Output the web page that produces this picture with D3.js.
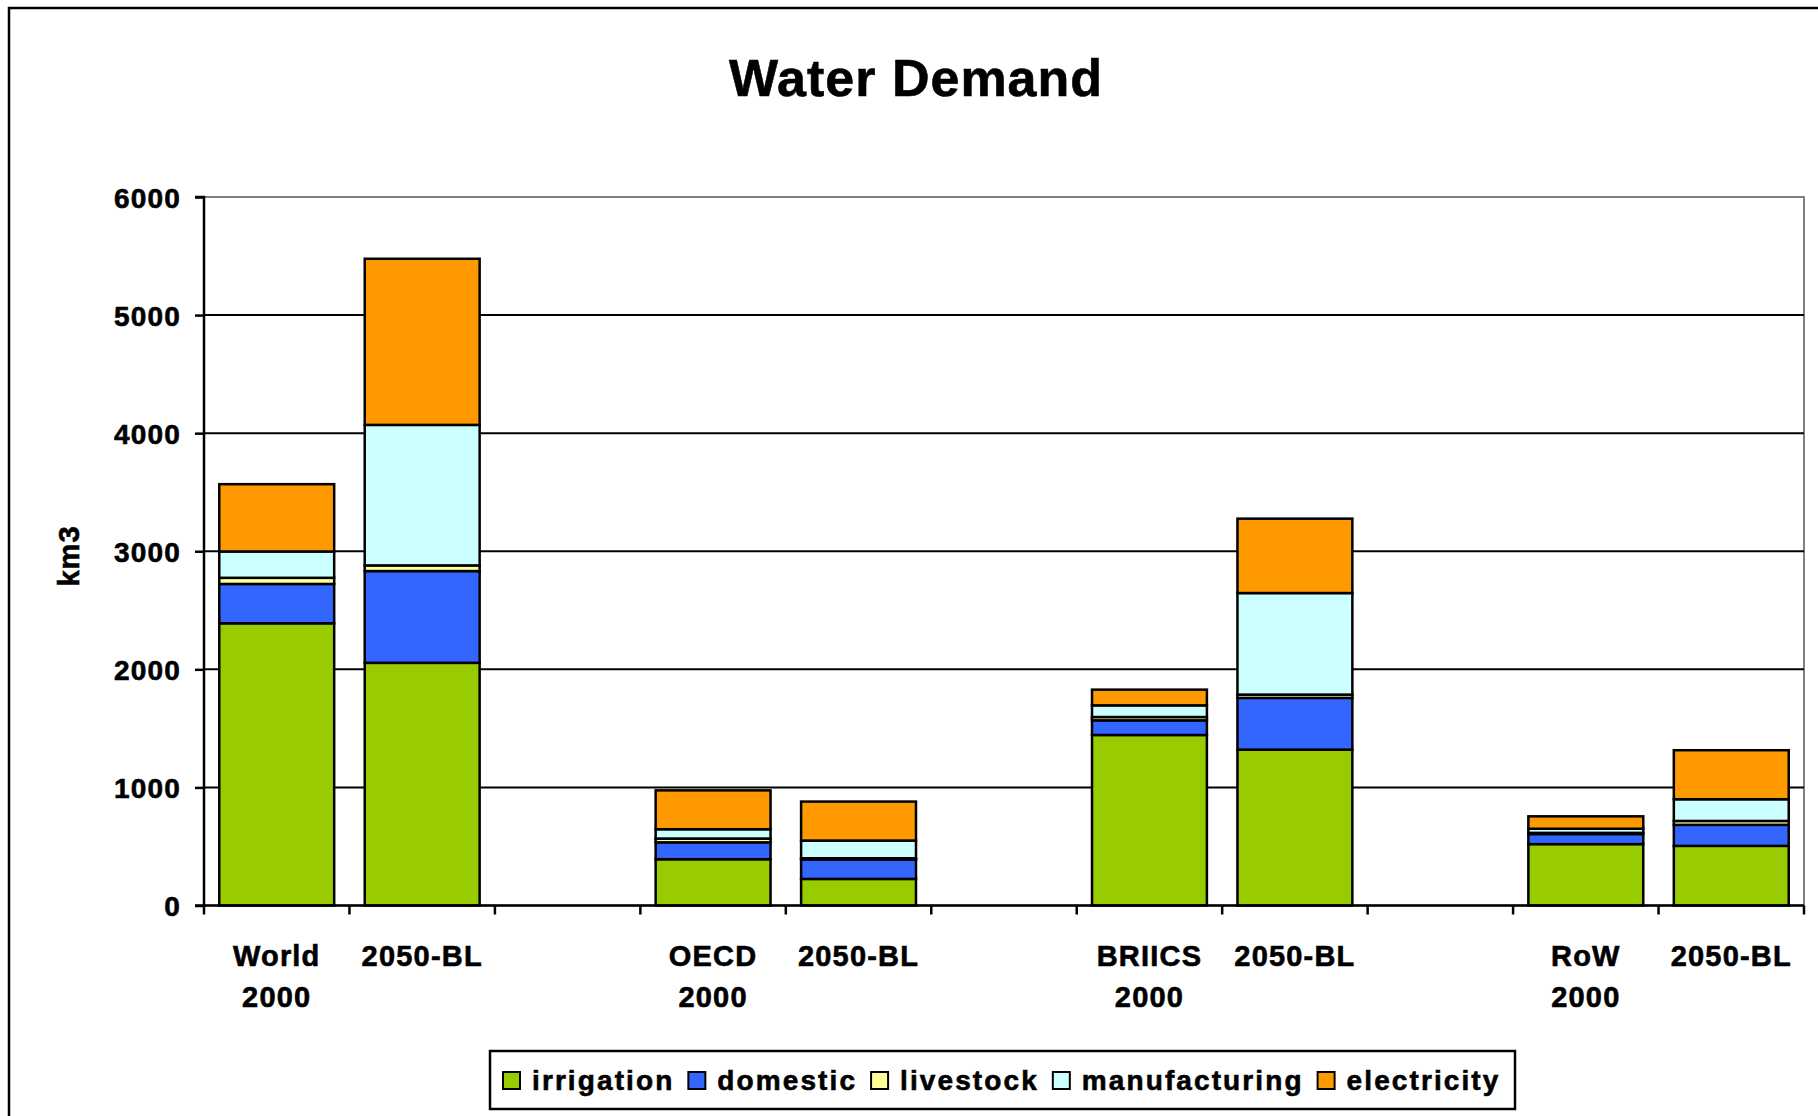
<!DOCTYPE html>
<html>
<head>
<meta charset="utf-8">
<script src="https://cdn.jsdelivr.net/npm/d3@7/dist/d3.min.js"></script>
<style>
  body { margin: 0; background: #fff; }
  text { font-family: "Liberation Sans", Arial, sans-serif; font-weight: bold; fill: #000; stroke: #000; stroke-width: 0.6px; }
</style>
</head>
<body>
<div class="D3"></div>
<script>
// categories (blank slots keep the gaps between regions)
var categories = ["World|2000", "2050-BL", "gap1", "OECD|2000", "2050-BL ", "gap2",
                  "BRIICS|2000", "2050-BL  ", "gap3", "RoW|2000", "2050-BL   "];
var seriesNames = ["irrigation", "domestic", "livestock", "manufacturing", "electricity"];
var seriesColors = ["#99CC00", "#3366FF", "#FFFF99", "#CCFFFF", "#FF9900"];

// values per category, km3 (null = empty slot)
var irrigation    = [2390, 2055, null, 392, 225, null, 1444, 1320, null, 520, 505];
var domestic      = [333, 777, null, 143, 165, null, 124, 438, null, 85, 178];
var livestock     = [52, 48, null, 32, 10, null, 28, 28, null, 10, 33];
var manufacturing = [223, 1190, null, 79, 150, null, 99, 860, null, 35, 184];
var electricity   = [570, 1407, null, 329, 330, null, 133, 630, null, 105, 415];

var yTicks = [0, 1000, 2000, 3000, 4000, 5000, 6000];

//svg dimensions and plot area
var svgWidth = 1818;
var svgHeight = 1116;

var margin = { top: 197, right: 14, bottom: 210.5, left: 204 };
var chartWidth = svgWidth - margin.left - margin.right;
var chartHeight = svgHeight - margin.top - margin.bottom;

var svg = d3.select(".D3")
  .append("svg")
  .attr("width", svgWidth)
  .attr("height", svgHeight);

//outer chart border
svg.append("rect")
  .attr("x", 9).attr("y", 8)
  .attr("width", svgWidth + 10).attr("height", svgHeight + 10)
  .attr("fill", "none")
  .attr("stroke", "#000")
  .attr("stroke-width", 2.5);

//title
svg.append("text")
  .attr("x", 916)
  .attr("y", 96)
  .attr("text-anchor", "middle")
  .attr("font-size", 52)
  .attr("letter-spacing", 1)
  .text("Water Demand");

var chartGroup = svg.append("g")
  .attr("transform", `translate(${margin.left}, ${margin.top})`);

var xScale = d3.scaleBand()
  .domain(categories)
  .range([0, chartWidth])
  .paddingInner(0.21)
  .paddingOuter(0.105);

var yScale = d3.scaleLinear()
  .domain([0, 6000])
  .range([chartHeight, 0]);

//plot area border (grey top/right)
chartGroup.append("rect")
  .attr("x", 0).attr("y", 0)
  .attr("width", chartWidth).attr("height", chartHeight)
  .attr("fill", "none")
  .attr("stroke", "#808080")
  .attr("stroke-width", 2);

//gridlines
chartGroup.selectAll(".grid")
  .data(yTicks.filter(d => d > 0 && d < 6000))
  .enter()
  .append("line")
  .attr("x1", 0).attr("x2", chartWidth)
  .attr("y1", d => yScale(d)).attr("y2", d => yScale(d))
  .attr("stroke", "#000")
  .attr("stroke-width", 2);

//stack data
var table = categories.map(function(c, i) {
  return {
    cat: c,
    irrigation: irrigation[i] || 0,
    domestic: domestic[i] || 0,
    livestock: livestock[i] || 0,
    manufacturing: manufacturing[i] || 0,
    electricity: electricity[i] || 0,
    empty: irrigation[i] === null
  };
});
var stacked = d3.stack().keys(seriesNames)(table);

var layers = chartGroup.selectAll(".layer")
  .data(stacked)
  .enter()
  .append("g")
  .attr("fill", (d, i) => seriesColors[i]);

layers.selectAll("rect")
  .data(d => d.filter(p => !p.data.empty))
  .enter()
  .append("rect")
  .attr("x", d => xScale(d.data.cat))
  .attr("width", xScale.bandwidth())
  .attr("y", d => yScale(d[1]))
  .attr("height", d => yScale(d[0]) - yScale(d[1]))
  .attr("stroke", "#000")
  .attr("stroke-width", 2.5);

//y axis
var leftAxis = d3.axisLeft(yScale)
  .tickValues(yTicks)
  .tickSize(9)
  .tickPadding(14)
  .tickFormat(d3.format("d"));

var yAxis = chartGroup.append("g").call(leftAxis);
yAxis.select(".domain").attr("stroke-width", 2.5).attr("d", `M-9,0H0V${chartHeight}H-9`);
yAxis.selectAll(".tick line").attr("stroke-width", 2.5);
yAxis.selectAll(".tick text")
  .attr("font-size", 28)
  .attr("font-family", "Liberation Sans, Arial, sans-serif")
  .attr("font-weight", "bold")
  .attr("letter-spacing", 1.2)
  .attr("dy", "0.36em");

//x axis: ticks at category boundaries
var bounds = d3.range(categories.length + 1).map(i => i * chartWidth / categories.length);
chartGroup.append("line")
  .attr("x1", 0).attr("x2", chartWidth)
  .attr("y1", chartHeight).attr("y2", chartHeight)
  .attr("stroke", "#000").attr("stroke-width", 2.5);
chartGroup.selectAll(".xtick")
  .data(bounds)
  .enter()
  .append("line")
  .attr("x1", d => d).attr("x2", d => d)
  .attr("y1", chartHeight).attr("y2", chartHeight + 9)
  .attr("stroke", "#000").attr("stroke-width", 2.5);

//x labels (two lines where needed)
var xLabels = chartGroup.selectAll(".xlabel")
  .data(categories.filter(c => c.indexOf("gap") !== 0))
  .enter()
  .append("text")
  .attr("text-anchor", "middle")
  .attr("font-size", 29)
  .attr("letter-spacing", 1.2)
  .attr("transform", d => `translate(${xScale(d) + xScale.bandwidth() / 2}, ${chartHeight + 60})`);

xLabels.each(function(d) {
  var lines = d.trim().split("|");
  var t = d3.select(this);
  lines.forEach(function(l, i) {
    t.append("tspan").attr("x", 0).attr("y", i * 41).text(l);
  });
});

//y axis title
svg.append("text")
  .attr("transform", "translate(79, 556) rotate(-90)")
  .attr("text-anchor", "middle")
  .attr("font-size", 29)
  .attr("letter-spacing", 1)
  .text("km3");

//legend
var legend = svg.append("g");
legend.append("rect")
  .attr("x", 490).attr("y", 1051)
  .attr("width", 1025).attr("height", 58)
  .attr("fill", "#fff")
  .attr("stroke", "#000")
  .attr("stroke-width", 2.5);

var lx = 503;
seriesNames.forEach(function(name, i) {
  legend.append("rect")
    .attr("x", lx).attr("y", 1072)
    .attr("width", 17).attr("height", 17)
    .attr("fill", seriesColors[i])
    .attr("stroke", "#000")
    .attr("stroke-width", 2);
  var t = legend.append("text")
    .attr("x", lx + 29).attr("y", 1090)
    .attr("font-size", 28)
    .attr("letter-spacing", 2.1)
    .text(name);
  lx += 29 + t.node().getComputedTextLength() + 14;
});
</script>
</body>
</html>
